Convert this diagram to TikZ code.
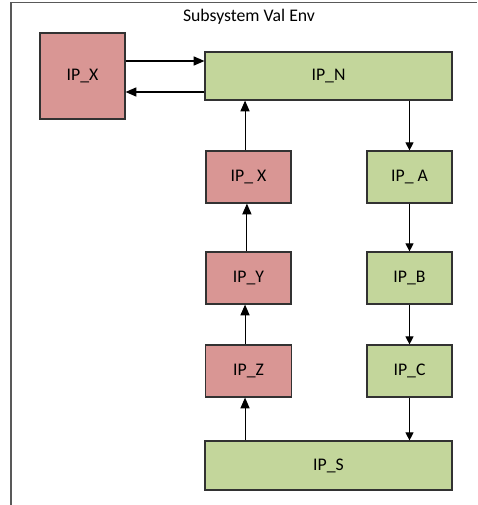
\documentclass[tikz,border=0pt]{standalone}
\usepackage{fontspec}
\setmainfont{Carlito}
\usetikzlibrary{arrows.meta}
\definecolor{redfill}{RGB}{217,150,148}
\definecolor{greenfill}{RGB}{195,214,155}
\definecolor{boxline}{RGB}{50,50,50}
\begin{document}
\begin{tikzpicture}[x=0.75pt,y=-0.75pt,
  txt/.style={font=\fontsize{13.3}{15}\selectfont},
  box/.style={txt,draw=boxline,line width=0.9pt,inner sep=0pt},
  redbox/.style={box,fill=redfill},
  greenbox/.style={box,fill=greenfill},
  arr/.style={draw=black,line width=0.8pt,-{Triangle[length=8pt,width=6.8pt]}},
  arrs/.style={draw=black,line width=0.8pt,-{Triangle[length=6pt,width=6pt]}}]
\useasboundingbox (0,0) rectangle (477,505);
\draw[draw=black!65,line width=1.1pt] (11,505) -- (11,2.5) -- (477,2.5);
\node[txt] (title) at (249,17) {Subsystem Val Env};
\node[redbox,minimum width=85*0.75pt,minimum height=86*0.75pt] (ipx) at (82.5,76) {IP\_X};
\node[greenbox,minimum width=247*0.75pt,minimum height=48*0.75pt] (ipn) at (328.5,76) {IP\_N};
\node[redbox,minimum width=85*0.75pt,minimum height=52*0.75pt] (ipx2) at (248.5,177) {IP\_ X};
\node[redbox,minimum width=85*0.75pt,minimum height=52*0.75pt] (ipy) at (248.5,278) {IP\_Y};
\node[redbox,minimum width=86*0.75pt,minimum height=52*0.75pt] (ipz) at (248.5,371) {IP\_Z};
\node[greenbox,minimum width=85*0.75pt,minimum height=52*0.75pt] (ipa) at (409.5,177) {IP\_ A};
\node[greenbox,minimum width=85*0.75pt,minimum height=52*0.75pt] (ipb) at (409.5,278) {IP\_B};
\node[greenbox,minimum width=85*0.75pt,minimum height=52*0.75pt] (ipc) at (409.5,371) {IP\_C};
\node[greenbox,minimum width=247*0.75pt,minimum height=49*0.75pt] (ips) at (328.5,465.5) {IP\_S};
% top connectors
\draw[arr] ([yshift=11.25pt]ipx.east) -- ([yshift=11.25pt]ipn.west);
\draw[arr] ([yshift=-12pt]ipn.west) -- ([yshift=-12pt]ipx.east);
% left column (upwards)
\draw[arr] ([xshift=-2.6pt]ips.north -| ipz.south) -- ([xshift=-2.6pt]ipz.south);
\draw[arr] ([xshift=-2.6pt]ipz.north) -- ([xshift=-2.6pt]ipy.south);
\draw[arr] ([xshift=-1.2pt]ipy.north) -- ([xshift=-1.2pt]ipx2.south);
\draw[arr] ([xshift=-2.6pt]ipx2.north) -- ([xshift=-2.6pt]ipx2.north |- ipn.south);
% right column (downwards)
\draw[arrs] (ipa.north |- ipn.south) -- (ipa.north);
\draw[arrs] (ipa.south) -- (ipb.north);
\draw[arrs] (ipb.south) -- (ipc.north);
\draw[arrs] (ipc.south) -- (ipc.south |- ips.north);
\end{tikzpicture}
\end{document}
